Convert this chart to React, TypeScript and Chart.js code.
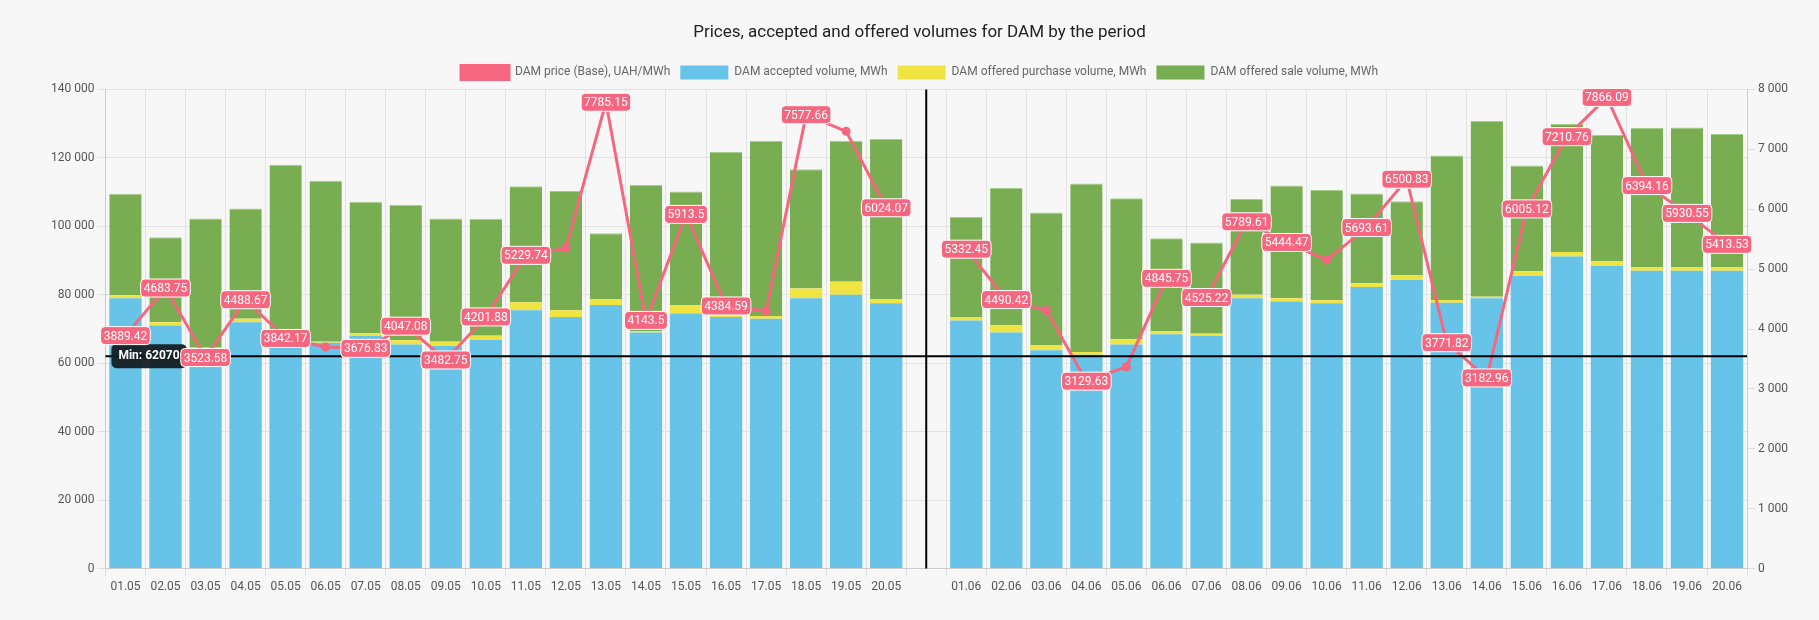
import React, { useEffect, useRef } from "react";
import { Chart, registerables } from "chart.js";
Chart.register(...registerables);

const categories = ["01.05","02.05","03.05","04.05","05.05","06.05","07.05","08.05","09.05","10.05","11.05","12.05","13.05","14.05","15.05","16.05","17.05","18.05","19.05","20.05","",
"01.06","02.06","03.06","04.06","05.06","06.06","07.06","08.06","09.06","10.06","11.06","12.06","13.06","14.06","15.06","16.06","17.06","18.06","19.06","20.06"];
const price: (number|null)[] = [3889.42,4683.75,3523.58,4488.67,3842.17,3700,3676.83,4047.08,3482.75,4201.88,5229.74,5350,7785.15,4143.5,5913.5,4384.59,4300,7577.66,7300,6024.07,null,
5332.45,4490.42,4310,3129.63,3370,4845.75,4525.22,5789.61,5444.47,5150,5693.61,6500.83,3771.82,3182.96,6005.12,7210.76,7866.09,6394.16,5930.55,5413.53];
const hiddenLabels = [5,11,16,18,23,25,30];
const accepted: (number|null)[] = [79000,71000,64000,72000,69500,66000,68000,65500,65000,66800,75500,73500,77000,69000,74500,73500,73000,79000,80000,77500,null,
72500,69000,63800,62500,65500,68500,68000,79000,78000,77500,82300,84300,77700,79000,85500,91200,88500,87000,87000,87000];
const purchase: (number|null)[] = [800,1000,500,1000,500,300,800,1200,1300,1200,2300,2000,1600,300,2500,500,800,2800,3800,1300,null,
1000,2000,1500,800,1500,900,600,1000,1000,900,1000,1500,800,400,1300,1300,1200,1000,1000,1000];
const totals: (number|null)[] = [109500,96800,102300,105200,118000,113300,107200,106200,102300,102200,111700,110300,98000,112100,110200,121700,124900,116700,125000,125500,null,
102700,111200,104000,112500,108200,96500,95300,108000,111900,110600,109600,107300,120700,130800,117800,129900,126700,128700,128900,127000];
const sale = totals.map((t, i) => (t == null ? null : t - (accepted[i] as number) - (purchase[i] as number)));
const minVolume = 62070;
const separatorIndex = 20;

const PINK = "#f6667f";
const fmt = (v: number) => v.toLocaleString("en-US").replace(/,/g, " ");

const overlay = {
  id: "overlay",
  afterDatasetsDraw(chart: any) {
    const { ctx, chartArea, scales } = chart;
    const x = scales.x, y = scales.y;
    ctx.save();
    ctx.strokeStyle = "#000"; ctx.lineWidth = 2;
    const ym = y.getPixelForValue(minVolume);
    ctx.beginPath(); ctx.moveTo(chartArea.left, ym); ctx.lineTo(chartArea.right, ym); ctx.stroke();
    const xs = x.getPixelForValue(separatorIndex);
    ctx.beginPath(); ctx.moveTo(xs, chartArea.top); ctx.lineTo(xs, chartArea.bottom); ctx.stroke();
    // min label
    ctx.font = "bold 12px Roboto";
    const txt = "Min: " + minVolume;
    const tw = ctx.measureText(txt).width;
    ctx.fillStyle = "rgba(20,30,35,0.95)";
    ctx.beginPath(); (ctx as any).roundRect(chartArea.left + 6, ym - 12, tw + 14, 24, 5); ctx.fill();
    ctx.fillStyle = "#fff"; ctx.textBaseline = "middle"; ctx.textAlign = "left";
    ctx.fillText(txt, chartArea.left + 13, ym);
    // price labels
    const meta = chart.getDatasetMeta(0);
    ctx.font = "12px Roboto"; ctx.textAlign = "center";
    meta.data.forEach((pt: any, i: number) => {
      const v = price[i];
      if (v == null || hiddenLabels.includes(i)) return;
      const s = String(v);
      const w = ctx.measureText(s).width + 6;
      ctx.fillStyle = PINK;
      ctx.strokeStyle = "#fff"; ctx.lineWidth = 1;
      ctx.beginPath(); (ctx as any).roundRect(pt.x - w / 2, pt.y - 9, w, 18, 4); ctx.fill(); ctx.stroke();
      ctx.fillStyle = "#fff";
      ctx.fillText(s, pt.x, pt.y + 1);
    });
    ctx.restore();
  },
};

export default function App() {
  const ref = useRef<HTMLCanvasElement>(null);
  useEffect(() => {
    document.body.style.background = "#f7f7f7";
    const chart = new Chart(ref.current!, {
      data: {
        labels: categories,
        datasets: [
          { type: "line", label: "DAM price (Base), UAH/MWh", data: price, yAxisID: "y1", borderColor: PINK, backgroundColor: PINK, borderWidth: 3, pointRadius: 3, spanGaps: false, order: 0 },
          { type: "bar", label: "DAM accepted volume, MWh", data: accepted, backgroundColor: "#68c3e8", yAxisID: "y", stack: "s", order: 1 },
          { type: "bar", label: "DAM offered purchase volume, MWh", data: purchase, backgroundColor: "#f0e442", yAxisID: "y", stack: "s", order: 1 },
          { type: "bar", label: "DAM offered sale volume, MWh", data: sale, backgroundColor: "#78ad52", borderColor: "#a6cf8a", borderWidth: { top: 1 } as any, yAxisID: "y", stack: "s", order: 1 },
        ] as any,
      },
      options: {
        animation: false, responsive: true, maintainAspectRatio: false,
        layout: { padding: { left: 40, right: 20, top: 5, bottom: 15 } },
        datasets: { bar: { categoryPercentage: 0.95, barPercentage: 0.85 } } as any,
        plugins: {
          title: { display: true, text: "Prices, accepted and offered volumes for DAM by the period", color: "#222", font: { family: "Roboto", size: 17, weight: "normal" }, padding: { top: 10, bottom: 12 } },
          legend: { labels: { boxWidth: 48, boxHeight: 14, color: "#666", font: { family: "Roboto", size: 12 } } },
          tooltip: { enabled: false },
        },
        scales: {
          x: { stacked: true, offset: true, grid: { color: "#e2e2e2", offset: true }, ticks: { color: "#555", font: { family: "Roboto", size: 12 }, autoSkip: false, maxRotation: 0 } },
          y: { stacked: true, position: "left", min: 0, max: 140000, ticks: { stepSize: 20000, color: "#555", font: { family: "Roboto", size: 12 }, callback: (v: any) => fmt(v) }, grid: { color: "#e2e2e2" } },
          y1: { position: "right", min: 0, max: 8000, ticks: { stepSize: 1000, color: "#555", font: { family: "Roboto", size: 12 }, callback: (v: any) => fmt(v) }, grid: { drawOnChartArea: false } },
        },
      },
      plugins: [overlay],
    });
    return () => chart.destroy();
  }, []);
  return (
    <div style={{ width: "100%", height: 604 }}>
      <canvas ref={ref} />
    </div>
  );
}
